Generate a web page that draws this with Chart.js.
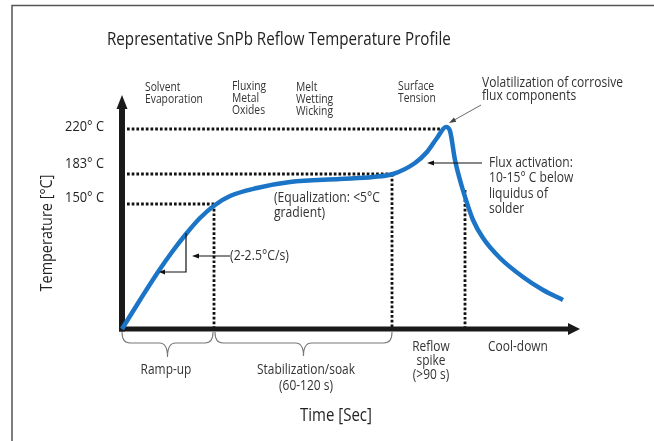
<!DOCTYPE html>
<html>
<head>
<meta charset="utf-8">
<title>Representative SnPb Reflow Temperature Profile</title>
<script src="https://cdn.jsdelivr.net/npm/chart.js@4.4.0/dist/chart.umd.min.js"></script>
<style>
  html, body { margin: 0; padding: 0; background: #fff; }
  #wrap { width: 654px; height: 441px; }
</style>
</head>
<body>
<div id="wrap"><canvas id="reflowChart" width="654" height="441"></canvas></div>
<script>
// schematic profile: time units along x, temperature level units along y
const timeVals = [0, 18, 36, 50, 64, 78, 93, 108, 135, 168, 218, 251, 271, 293, 305, 315, 324, 328, 333, 340, 344, 351, 361, 378, 401, 421, 441];
const tempVals = [0, 29, 57, 77, 95, 111, 124, 133, 141, 147, 150, 152, 155, 166, 177, 191, 202, 198, 169, 142, 129, 109, 91, 71, 52, 39, 29];

// temperature reference levels and their labels
const tempLevels = [125, 155, 200];
const tempLabels = ['150° C', '183° C', '220° C'];
const levelEnds = [92, 270, 322];       // where each dotted level line stops

// phase boundaries (vertical dotted lines) and the level they rise to
const phaseTimes = [92, 270, 343];
const phaseTops = [125, 155, 139];

const headerLabels = [
    ['Solvent', 'Evaporation'],
    ['Fluxing', 'Metal', 'Oxides'],
    ['Melt', 'Wetting', 'Wicking'],
    ['Surface', 'Tension']
];

const FONT = '"Open Sans", "DejaVu Sans", sans-serif';
const SQUEEZE = 0.85;   // the original lettering is a narrow humanist face

// pick a font size so that refText is refWidth wide once squeezed
function fitSize(ctx, refText, refWidth) {
    ctx.font = `20px ${FONT}`;
    const w = ctx.measureText(refText).width;
    return 20 * refWidth / (w * SQUEEZE);
}

function drawLines(ctx, lines, x, y, lh, size, align, color) {
    ctx.save();
    ctx.translate(x, y);
    ctx.scale(SQUEEZE, 1);
    ctx.font = `${size}px ${FONT}`;
    ctx.fillStyle = color || '#333';
    ctx.textAlign = align;
    ctx.textBaseline = 'middle';
    lines.forEach((t, i) => ctx.fillText(t, 0, i * lh));
    ctx.restore();
}

function arrow(ctx, x1, y1, x2, y2, len, half, color, width) {
    const a = Math.atan2(y2 - y1, x2 - x1);
    ctx.save();
    ctx.strokeStyle = color;
    ctx.fillStyle = color;
    ctx.lineWidth = width;
    ctx.beginPath();
    ctx.moveTo(x1, y1);
    ctx.lineTo(x2 - Math.cos(a) * len * 0.6, y2 - Math.sin(a) * len * 0.6);
    ctx.stroke();
    ctx.beginPath();
    ctx.moveTo(x2, y2);
    ctx.lineTo(x2 - Math.cos(a) * len - Math.sin(a) * half, y2 - Math.sin(a) * len + Math.cos(a) * half);
    ctx.lineTo(x2 - Math.cos(a) * len + Math.sin(a) * half, y2 - Math.sin(a) * len - Math.cos(a) * half);
    ctx.closePath();
    ctx.fill();
    ctx.restore();
}

function brace(ctx, xa, xb, yTop, yBar, yTip) {
    const xm = (xa + xb) / 2;
    ctx.beginPath();
    ctx.moveTo(xa, yTop);
    ctx.quadraticCurveTo(xa, yBar, xa + 8, yBar);
    ctx.lineTo(xm - 8, yBar);
    ctx.quadraticCurveTo(xm, yBar, xm, yTip);
    ctx.quadraticCurveTo(xm, yBar, xm + 8, yBar);
    ctx.lineTo(xb - 8, yBar);
    ctx.quadraticCurveTo(xb, yBar, xb, yTop);
    ctx.stroke();
}

const profileDecor = {
    id: 'profileDecor',
    beforeDatasetsDraw(chart) {
        const { ctx, scales: { x, y } } = chart;
        const px = v => x.getPixelForValue(v);
        const py = v => y.getPixelForValue(v);
        const x0 = px(0), y0 = py(0);
        const xEnd = x.right, yEnd = y.top;

        ctx.save();
        // outer frame
        ctx.strokeStyle = '#555';
        ctx.lineWidth = 1.5;
        ctx.beginPath();
        ctx.moveTo(12, 441);
        ctx.lineTo(12, 5.5);
        ctx.lineTo(654, 5.5);
        ctx.stroke();

        // dotted reference lines
        ctx.strokeStyle = '#111';
        ctx.lineWidth = 2.8;
        ctx.setLineDash([2.7, 2]);
        tempLevels.forEach((lv, i) => {
            ctx.beginPath();
            ctx.moveTo(x0 + 5, py(lv));
            ctx.lineTo(px(levelEnds[i]), py(lv));
            ctx.stroke();
        });
        phaseTimes.forEach((t, i) => {
            ctx.beginPath();
            ctx.moveTo(px(t), py(phaseTops[i]));
            ctx.lineTo(px(t), y0);
            ctx.stroke();
        });
        ctx.setLineDash([]);

        // axes with arrow heads
        ctx.strokeStyle = '#1a1a1a';
        ctx.fillStyle = '#1a1a1a';
        ctx.lineWidth = 6;
        ctx.beginPath();
        ctx.moveTo(x0, y0 + 2.5);
        ctx.lineTo(x0, yEnd + 12);
        ctx.stroke();
        ctx.beginPath();
        ctx.moveTo(x0 - 5.5, yEnd + 14);
        ctx.lineTo(x0, yEnd);
        ctx.lineTo(x0 + 5.5, yEnd + 14);
        ctx.closePath();
        ctx.fill();
        ctx.lineWidth = 5;
        ctx.beginPath();
        ctx.moveTo(x0 - 3, y0);
        ctx.lineTo(xEnd - 10, y0);
        ctx.stroke();
        ctx.beginPath();
        ctx.moveTo(xEnd - 12, y0 - 6);
        ctx.lineTo(xEnd, y0);
        ctx.lineTo(xEnd - 12, y0 + 6);
        ctx.closePath();
        ctx.fill();

        // braces under the time axis
        ctx.strokeStyle = '#777';
        ctx.lineWidth = 1.1;
        brace(ctx, x0, px(phaseTimes[0]) - 1, y0 + 3, y0 + 14, y0 + 28);
        brace(ctx, px(phaseTimes[0]) + 1, px(phaseTimes[1]), y0 + 3, y0 + 14, y0 + 27);
        ctx.restore();
    },
    afterDatasetsDraw(chart) {
        const { ctx, scales: { x, y } } = chart;
        const px = v => x.getPixelForValue(v);
        const py = v => y.getPixelForValue(v);

        // slope triangle on the ramp
        ctx.save();
        ctx.strokeStyle = '#111';
        ctx.lineWidth = 1.2;
        ctx.beginPath();
        ctx.moveTo(px(timeVals[4]), py(tempVals[4]) - 1);
        ctx.lineTo(px(timeVals[4]), py(tempVals[2]));
        ctx.lineTo(px(timeVals[2]) + 5, py(tempVals[2]));
        ctx.stroke();
        ctx.restore();
        arrow(ctx, px(timeVals[2]) + 6, py(tempVals[2]), px(timeVals[2]) + 1, py(tempVals[2]), 6, 2.5, '#111', 1.2);

        // pointer arrows
        arrow(ctx, px(108), py(73), px(70), py(73), 7, 2.5, '#111', 1.2);
        arrow(ctx, px(360), py(166), px(305), py(166), 7, 2.5, '#111', 1.2);
        arrow(ctx, px(359), py(224), px(327), py(206), 7, 2.5, '#444', 0.8);

        // title
        const tSize = fitSize(ctx, 'Representative SnPb Reflow Temperature Profile', 344);
        drawLines(ctx, ['Representative SnPb Reflow Temperature Profile'], 107, 40, 0, tSize, 'left', '#222');

        // temperature tick labels
        const tickSize = fitSize(ctx, '220° C', 39);
        const tickShift = [-6, -10, -2];
        tempLevels.forEach((lv, i) => {
            drawLines(ctx, [tempLabels[i]], 104, py(lv) + tickShift[i], 0, tickSize, 'right', '#222');
        });

        // axis titles
        const axSize = fitSize(ctx, 'Time [Sec]', 72);
        drawLines(ctx, ['Time [Sec]'], 336, 416, 0, axSize, 'center', '#222');
        ctx.save();
        ctx.translate(47, 233);
        ctx.rotate(-Math.PI / 2);
        const ytSize = fitSize(ctx, 'Temperature [°C]', 117);
        drawLines(ctx, ['Temperature [°C]'], 0, 0, 0, ytSize, 'center', '#222');
        ctx.restore();

        // process headers
        const hSize = fitSize(ctx, 'Evaporation', 58);
        const hX = [145, 232, 296, 398];
        const hY = [88, 87, 88, 87];
        headerLabels.forEach((lines, i) => drawLines(ctx, lines, hX[i], hY[i], 12, hSize, 'left'));

        // notes
        const vSize = fitSize(ctx, 'Volatilization of corrosive', 141);
        drawLines(ctx, ['Volatilization of corrosive', 'flux components'], 482, 83, 13, vSize, 'left');
        const fSize = fitSize(ctx, 'Flux activation:', 84);
        drawLines(ctx, ['Flux activation:', '10-15° C below', 'liquidus of', 'solder'], 489, 163, 15.3, fSize, 'left');
        const eSize = fitSize(ctx, '(Equalization: <5°C', 106);
        drawLines(ctx, ['(Equalization: <5°C', 'gradient)'], 274, 198, 15, eSize, 'left');
        const sSize = fitSize(ctx, '(2-2.5°C/s)', 59);
        drawLines(ctx, ['(2-2.5°C/s)'], 230, 256, 0, sSize, 'left');

        // phase labels under the axis
        const bSize = fitSize(ctx, 'Stabilization/soak', 98);
        drawLines(ctx, ['Ramp-up'], 166, 370, 0, bSize, 'center');
        drawLines(ctx, ['Stabilization/soak', '(60-120 s)'], 306, 370, 15.5, bSize, 'center');
        drawLines(ctx, ['Reflow', 'spike', '(>90 s)'], 431, 347, 14, bSize, 'center');
        drawLines(ctx, ['Cool-down'], 518, 347, 0, bSize, 'center');
    }
};

const points = timeVals.map((t, i) => ({ x: t, y: tempVals[i] }));

new Chart(document.getElementById('reflowChart'), {
    type: 'line',
    data: {
        datasets: [{
            label: 'Reflow profile',
            data: points,
            borderColor: '#1b74c5',
            borderWidth: 4.5,
            pointRadius: 0,
            cubicInterpolationMode: 'monotone',
            fill: false,
            clip: false
        }]
    },
    options: {
        responsive: false,
        animation: false,
        events: [],
        layout: { padding: { left: 122, right: 74, top: 95, bottom: 112 } },
        scales: {
            x: { type: 'linear', min: 0, max: 458, display: false },
            y: { type: 'linear', min: 0, max: 234, display: false }
        },
        plugins: {
            legend: { display: false },
            tooltip: { enabled: false }
        }
    },
    plugins: [profileDecor]
});
</script>
</body>
</html>
